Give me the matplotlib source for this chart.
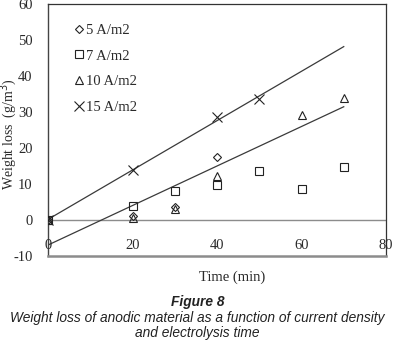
import numpy as np
import matplotlib
matplotlib.use("Agg")
import matplotlib.pyplot as plt

# Data
t5 = [0, 20, 30, 40]
w5 = [0, 1.0, 3.5, 17.5]
t7 = [0, 20, 30, 40, 50, 60, 70]
w7 = [0, 4.0, 8.0, 9.6, 13.5, 8.5, 14.8]
t10 = [0, 20, 30, 40, 60, 70]
w10 = [0, 0.5, 3.0, 12.2, 29.3, 34.0]
t15 = [0, 20, 40, 50]
w15 = [0, 13.8, 28.7, 33.6]
labels = ["5 A/m2", "7 A/m2", "10 A/m2", "15 A/m2"]
xticks = [0, 20, 40, 60, 80]
yticks = [-10, 0, 10, 20, 30, 40, 50, 60]

serif = ["Liberation Serif", "DejaVu Serif"]
sans = ["Liberation Sans", "DejaVu Sans"]
fs = 10.5
tc = "#2a2a2a"

fig = plt.figure(figsize=(3.95, 3.5), dpi=100)
ax = fig.add_axes([48/395, 1-256/350, 338/395, 252/350])

ax.set_xlim(0, 80)
ax.set_ylim(-10, 60)

ax.axhline(0, color="#8c8c8c", lw=1.0, zorder=1)

# trend lines (linear fits)
fit_x = np.array([0, 70])
p15 = np.polyfit(t15, w15, 1)
p10 = np.polyfit(t10, w10, 1)
ax.plot(fit_x, np.polyval(p15, fit_x), color="#3a3a3a", lw=0.9, zorder=2)
ax.plot(fit_x, np.polyval(p10, fit_x), color="#3a3a3a", lw=0.9, zorder=2)

ms = 5.5
ax.plot(t5, w5, ls="none", marker="D", ms=4.5, mfc="none", mec="#222222", mew=0.8, label=labels[0], zorder=3)
ax.plot(t7, w7, ls="none", marker="s", ms=ms, mfc="none", mec="#222222", mew=0.8, label=labels[1], zorder=3)
ax.plot(t10, w10, ls="none", marker="^", ms=ms+0.5, mfc="none", mec="#222222", mew=0.8, label=labels[2], zorder=3)
ax.plot(t15, w15, ls="none", marker="x", ms=ms+1.5, mfc="none", mec="#222222", mew=0.8, label=labels[3], zorder=3)

# frame
for s in ["top", "right"]:
    ax.spines[s].set_color("#333333")
    ax.spines[s].set_linewidth(0.9)
ax.spines["left"].set_color("#444444")
ax.spines["left"].set_linewidth(1.0)
ax.spines["bottom"].set_color("#8c8c8c")
ax.spines["bottom"].set_linewidth(1.8)

ax.set_yticks(yticks)
ax.set_yticklabels([str(v) for v in yticks], fontfamily=serif, fontsize=fs, color=tc)
ax.tick_params(axis="y", length=0, pad=11)
ax.set_xticks(xticks)
ax.set_xticklabels([])
ax.tick_params(axis="x", length=0)
for v in xticks:
    ax.text(v, -7, str(v), ha="center", va="center", fontfamily=serif, fontsize=fs, color=tc)

fig.text(9/395, 1-134/350, "Weight loss  (g/m$^3$)", rotation=90, ha="center", va="center",
         fontfamily=serif, fontsize=10, color=tc)
fig.text(232/395, 1-277/350, "Time (min)", ha="center", va="center", fontfamily=serif, fontsize=fs, color=tc)

leg = ax.legend(loc="upper left", bbox_to_anchor=(0.062, 0.945), frameon=False,
                prop={"family": serif, "size": fs}, handlelength=0.55, handletextpad=0.25,
                labelspacing=0.85, borderaxespad=0)
for txt in leg.get_texts():
    txt.set_color(tc)

cfs = 9.9
fig.text(0.5, 1-302/350, "Figure 8", ha="center", va="center", fontfamily=sans,
         fontsize=cfs, fontweight="bold", fontstyle="italic", color="#222222")
fig.text(0.5, 1-318/350, "Weight loss of anodic material as a function of current density",
         ha="center", va="center", fontfamily=sans, fontsize=cfs, fontstyle="italic", color="#222222")
fig.text(0.5, 1-333/350, "and electrolysis time",
         ha="center", va="center", fontfamily=sans, fontsize=cfs, fontstyle="italic", color="#222222")

fig.savefig("out.png", dpi=100)
